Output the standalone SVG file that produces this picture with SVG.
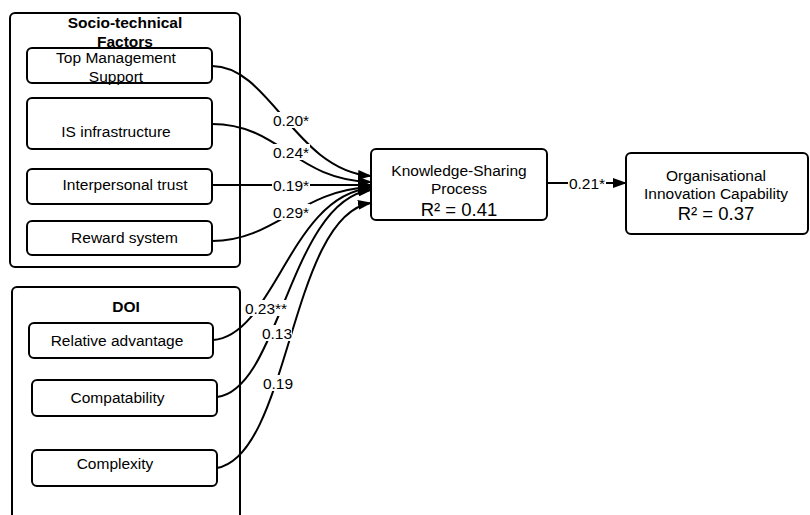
<svg xmlns="http://www.w3.org/2000/svg" width="810" height="515" viewBox="0 0 810 515">
<defs>
<marker id="ah" markerWidth="14" markerHeight="10" refX="13" refY="5" orient="auto" markerUnits="userSpaceOnUse">
<path d="M0,0 L14,5 L0,10 Z" fill="#000"/>
</marker>
<style>
.box{fill:#fff;stroke:#000;stroke-width:2}
.t{font-family:"Liberation Sans",Arial,sans-serif;font-size:15.5px;fill:#000;text-anchor:middle}
.b{font-weight:bold}
.r{font-size:18.5px}
.c{fill:none;stroke:#000;stroke-width:2}
.lb{fill:#fff}
.l{font-family:"Liberation Sans",Arial,sans-serif;font-size:15.5px;fill:#000;text-anchor:middle}
</style>
</defs>
<rect width="810" height="515" fill="#fff"/>
<g id="socio-technical">
<rect class="box" x="10" y="13" width="230" height="254" rx="5"/>
<text class="t b" x="125" y="27.5">Socio-technical</text>
<text class="t b" x="125" y="46.5">Factors</text>
</g>
<g id="doi">
<rect class="box" x="12" y="287" width="228" height="240" rx="5"/>
<text class="t b" x="126" y="311.5">DOI</text>
</g>
<g id="top-management">
<rect class="box" x="27" y="48" width="185" height="35" rx="5"/>
<text class="t" x="116" y="62.5">Top Management</text>
<text class="t" x="116" y="81.5">Support</text>
</g>
<g id="is-infrastructure">
<rect class="box" x="27" y="98" width="185" height="51" rx="5"/>
<text class="t" x="116" y="136.5">IS infrastructure</text>
</g>
<g id="interpersonal-trust">
<rect class="box" x="27" y="169" width="185" height="35" rx="5"/>
<text class="t" x="125" y="189.5">Interpersonal trust</text>
</g>
<g id="reward-system">
<rect class="box" x="27" y="221" width="185" height="34" rx="5"/>
<text class="t" x="124.5" y="242.5">Reward system</text>
</g>
<g id="relative-advantage">
<rect class="box" x="29" y="323" width="184" height="35" rx="5"/>
<text class="t" x="117" y="345.5">Relative advantage</text>
</g>
<g id="compatability">
<rect class="box" x="32" y="380" width="185" height="36" rx="5"/>
<text class="t" x="117.5" y="402.5">Compatability</text>
</g>
<g id="complexity">
<rect class="box" x="32" y="450" width="185" height="36" rx="5"/>
<text class="t" x="115" y="468.5">Complexity</text>
</g>
<g id="knowledge-sharing">
<rect class="box" x="371" y="149" width="176" height="71" rx="5"/>
<text class="t" x="459" y="175.5">Knowledge-Sharing</text>
<text class="t" x="459" y="193.5">Process</text>
<text class="t r" x="459" y="215.5">R² = 0.41</text>
</g>
<g id="organisational-innovation">
<rect class="box" x="626" y="153" width="182" height="81" rx="5"/>
<text class="t" x="716" y="180.5">Organisational</text>
<text class="t" x="716" y="198.5">Innovation Capability</text>
<text class="t r" x="716" y="219.5">R² = 0.37</text>
</g>
<g id="connectors">
<path class="c" d="M212,66 C270,66 295,170 371,176" marker-end="url(#ah)"/>
<path class="c" d="M212,124 C280,124 295,180 371,182" marker-end="url(#ah)"/>
<path class="c" d="M212,185 L371,185" marker-end="url(#ah)"/>
<path class="c" d="M212,241 C275,241 300,190 371,187" marker-end="url(#ah)"/>
<path class="c" d="M213,340 C275,335 290,195 371,188" marker-end="url(#ah)"/>
<path class="c" d="M217,397 C280,390 290,200 371,190" marker-end="url(#ah)"/>
<path class="c" d="M217,468 C290,455 290,215 371,203" marker-end="url(#ah)"/>
<path class="c" d="M547,183 L626,183" marker-end="url(#ah)"/>
<rect class="lb" x="272" y="112" width="38" height="16"/>
<text class="l" x="291" y="125.5">0.20*</text>
<rect class="lb" x="272" y="144" width="38" height="16"/>
<text class="l" x="291" y="157.5">0.24*</text>
<rect class="lb" x="272" y="177" width="38" height="16"/>
<text class="l" x="291" y="190.5">0.19*</text>
<rect class="lb" x="272" y="204" width="38" height="16"/>
<text class="l" x="291" y="217.5">0.29*</text>
<rect class="lb" x="244" y="300" width="44" height="16"/>
<text class="l" x="266" y="313.5">0.23**</text>
<rect class="lb" x="262" y="325" width="30" height="16"/>
<text class="l" x="277" y="338.5">0.13</text>
<rect class="lb" x="263" y="375" width="30" height="16"/>
<text class="l" x="278" y="388.5">0.19</text>
<rect class="lb" x="568" y="175" width="38" height="16"/>
<text class="l" x="587" y="188.5">0.21*</text>
</g>
</svg>
